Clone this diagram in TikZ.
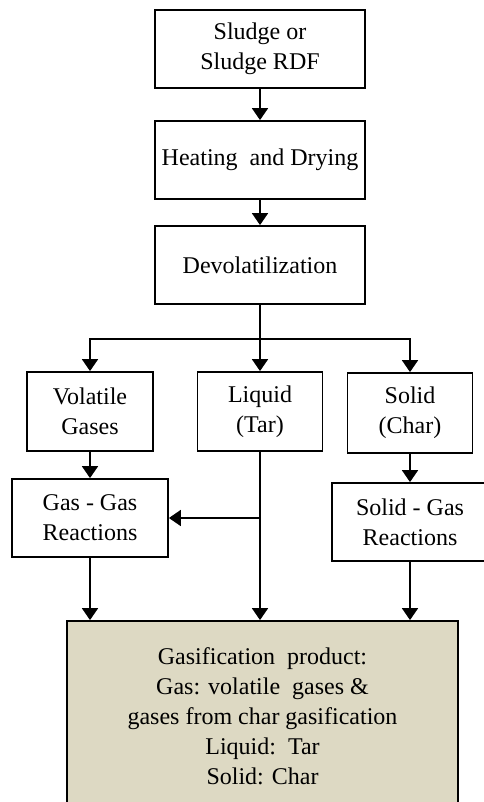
\documentclass[tikz,border=0pt]{standalone}
\usepackage{fontspec}
\setmainfont{Liberation Serif}
\usetikzlibrary{arrows.meta}
\definecolor{prodfill}{HTML}{DDD9C3}
\tikzset{
  box/.style={draw=black, line width=1.8pt, fill=white, align=center, inner sep=0pt,
    font=\fontsize{24}{30}\selectfont},
  conn/.style={line width=1.8pt, -{Triangle[width=16pt,length=12pt]}},
  plain/.style={line width=1.8pt},
}
\begin{document}
\begin{tikzpicture}[x=1pt,y=-1pt]
\useasboundingbox (0,0) rectangle (483,802);
\node[box, minimum width=210pt, minimum height=78pt] (sludge) at (260,49) {Sludge or\\Sludge RDF};
\node[box, minimum width=210pt, minimum height=78pt] (heat) at (260,160) {Heating\ \ and Drying};
\node[box, minimum width=210pt, minimum height=78pt] (devol) at (260,265) {Devolatilization};
\node[box, minimum width=126pt, minimum height=79pt] (vol) at (90,411.5) {Volatile\\Gases};
\node[box, minimum width=125pt, minimum height=79pt] (liq) at (260,411.5) {Liquid\\(Tar)};
\node[box, minimum width=125pt, minimum height=80pt] (sol) at (410,413) {Solid\\(Char)};
\node[box, minimum width=156pt, minimum height=78pt] (gg) at (90,518) {Gas - Gas\\Reactions};
\node[box, minimum width=156pt, minimum height=78pt] (sg) at (410,522) {Solid - Gas\\Reactions};
\node[box, fill=prodfill, minimum width=391pt, minimum height=190pt] (prod) at (262.5,716)
  {Gasification\ \ product:\\Gas: volatile\ \ gases \&\\gases from char gasification\\Liquid:\ \ Tar\\Solid: Char};

\coordinate (split) at (260,339);
\draw[conn] (sludge.south) -- (heat.north);
\draw[conn] (heat.south) -- (devol.north);
\draw[plain] (devol.south) -- (split);
\draw[conn] (split) -| (vol.north);
\draw[conn] (split) -| (sol.north);
\draw[conn] (split) -- (liq.north);
\draw[conn] (vol.south) -- (gg.north);
\draw[conn] (sol.south) -- (sg.north);
\draw[conn] (liq.south) -- (liq.south |- prod.north);
\coordinate (tj) at (260,518);
\draw[conn] (tj) -- (tj -| gg.east);
\draw[conn] (gg.south) -- (gg.south |- prod.north);
\draw[conn] (sg.south) -- (sg.south |- prod.north);
\end{tikzpicture}
\end{document}
